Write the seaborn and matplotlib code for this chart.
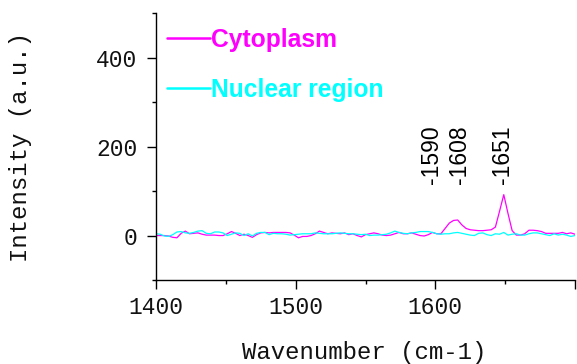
import numpy as np
import pandas as pd
import matplotlib
matplotlib.use("Agg")
import matplotlib.pyplot as plt
import seaborn as sns
from matplotlib.ticker import MultipleLocator, FixedLocator
from matplotlib.lines import Line2D

# ---- data ----
wavenumber = np.arange(1400, 1701, 3)
cytoplasm = [0, 0, 0, -1, -4, -5, 5, 10, 4, 5,
             6, 3, 1, 1, 1, 0, 0, 4, 9, 5,
             0, 3, 0, -4, 2, 6, 7, 6, 7, 7,
             7, 7, 6, 1, -5, -2, -2, 0, 4, 10,
             7, 4, 6, 5, 4, 6, 2, 4, 0, -3,
             2, 4, 6, 4, 1, 0, 1, 4, 7, 4,
             4, 6, 3, 0, -1, 2, 7, 4, 4, 16,
             28, 34, 35, 24, 16, 13, 12, 11, 11, 12,
             13, 19, 55, 92, 50, 11, 1, 1, 4, 12,
             12, 11, 9, 5, 5, 5, 5, 7, 4, 6,
             3]
nuclear = [4, 3, -1, -2, 2, 8, 9, 6, 5, 7,
           10, 11, 5, 4, 8, 8, 6, 0, 3, 6,
           5, 0, 4, -1, 5, 7, 7, 2, 5, 4,
           4, 3, 1, 2, 3, 4, 4, 4, 6, 5,
           4, 4, 4, 5, 6, 5, 4, 4, 3, 2,
           3, 0, 1, 1, 2, 3, 6, 10, 7, 5,
           4, 6, 7, 9, 9, 9, 7, 4, 3, 4,
           4, 6, 7, 5, 3, 1, 0, 5, 6, 2,
           0, 4, 3, 7, 1, 3, 4, 1, 1, 4,
           6, 6, 4, 2, 0, 4, 1, 3, 1, -2,
           0]
series_names = ["Cytoplasm", "Nuclear region"]
series_colors = ["#ff00ff", "#00ffff"]
peak_labels = ["-1590", "-1608", "-1651"]
peak_label_x = [1597.5, 1617.5, 1648.0]
peak_label_y = 116
x_ticks = [1400, 1500, 1600, 1700]
x_tick_labels = ["1400", "1500", "1600", ""]
y_ticks = [0, 200, 400]

df = pd.DataFrame({
    "Wavenumber": np.concatenate([wavenumber, wavenumber]),
    "Intensity": np.concatenate([cytoplasm, nuclear]),
    "Region": [series_names[0]] * len(wavenumber) + [series_names[1]] * len(wavenumber),
})

sns.set_style("ticks")
plt.rcParams["font.family"] = ["Liberation Mono", "DejaVu Sans"]

fig = plt.figure(figsize=(5.77, 3.64), dpi=100)
ax_h = (280 - 13.3) / 364
ax = fig.add_axes([156 / 577, 1 - 280 / 364, (575 - 156) / 577, ax_h])

sns.lineplot(data=df, x="Wavenumber", y="Intensity", hue="Region",
             palette=dict(zip(series_names, series_colors)), linewidth=0.9,
             ax=ax, legend=False)

ax.set_xlim(1400, 1700)
ax.set_ylim(-100, 500)
ax.xaxis.set_major_locator(FixedLocator(x_ticks))
ax.set_xticklabels(x_tick_labels)
ax.xaxis.set_minor_locator(MultipleLocator(50))
ax.yaxis.set_major_locator(FixedLocator(y_ticks))
ax.yaxis.set_minor_locator(FixedLocator([-100, 100, 300, 500]))

for s in ["top", "right"]:
    ax.spines[s].set_visible(False)
for s in ["left", "bottom"]:
    ax.spines[s].set_color("black")
    ax.spines[s].set_linewidth(1.0)

ax.tick_params(which="major", direction="out", length=6.5, width=1.0, color="black",
               labelsize=16.5, labelcolor="#111111")
ax.tick_params(axis="y", which="major", pad=7)
ax.tick_params(axis="x", which="major", pad=5)
ax.tick_params(which="minor", direction="out", length=3.2, width=1.0, color="black")

ax.set_xlabel("Wavenumber (cm-1)", fontsize=17.3, color="#111111")
ax.set_ylabel("Intensity (a.u.)", fontsize=17.3, color="#111111")
ax.xaxis.set_label_coords((364 - 156) / 419, (280 - 341) / 266.7)
ax.yaxis.set_label_coords((32 - 156) / 419, 0.5)

# legend
handles = [Line2D([], [], color=c, lw=1.8) for c in series_colors]
leg = ax.legend(handles, series_names, loc="upper left",
                bbox_to_anchor=((167 - 156) / 419, (280 - 28) / 266.7),
                frameon=False, handlelength=1.75, handletextpad=0.05,
                labelspacing=1.05, borderpad=0, borderaxespad=0,
                prop={"family": "Liberation Sans", "weight": "bold", "size": 17.7})
for t, c in zip(leg.get_texts(), series_colors):
    t.set_color(c)

for lab, xv in zip(peak_labels, peak_label_x):
    ax.text(xv, peak_label_y, lab, rotation=90, ha="center", va="bottom",
            fontsize=16.5, family="Liberation Sans", color="black")

fig.savefig("out.png", dpi=100)
